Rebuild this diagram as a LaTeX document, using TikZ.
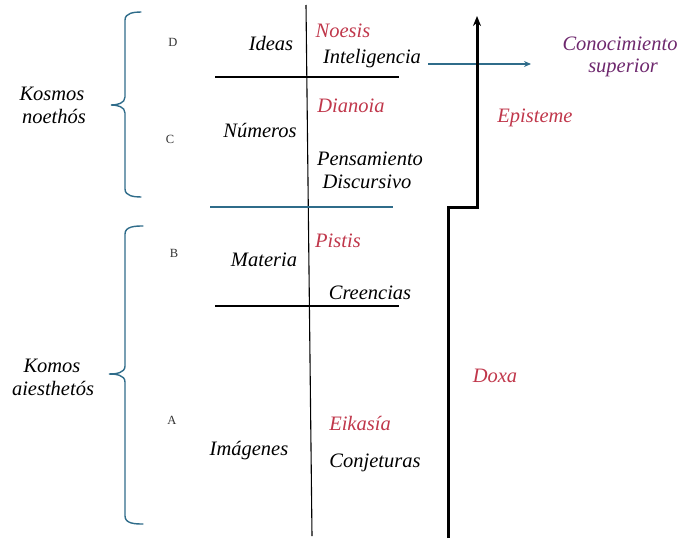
\documentclass[tikz,border=0pt]{standalone}
\usepackage{fontspec}
\setmainfont{Liberation Serif}
\usetikzlibrary{arrows.meta}
\definecolor{redtxt}{RGB}{192,55,75}
\definecolor{purptxt}{RGB}{110,40,110}
\definecolor{tealc}{RGB}{47,108,138}
\tikzset{
  lbl/.style={anchor=base, inner sep=0pt, font=\fontsize{20.5}{24}\selectfont\itshape},
  rlbl/.style={lbl, text=redtxt},
  plbl/.style={lbl, text=purptxt},
  letter/.style={anchor=base, inner sep=0pt, text=black!80, font=\fontsize{12.5}{14}\selectfont},
  blackrule/.style={draw=black, line width=1.1pt},
  tealrule/.style={draw=tealc, line width=1.6pt},
  bracec/.style={draw=tealc, line width=1.4pt, line cap=round},
  steppath/.style={draw=black, line width=3pt},
}
\begin{document}
\begin{tikzpicture}[x=1pt,y=-1pt]
\useasboundingbox (0,0) rectangle (684,538);
% central vertical
\coordinate (vtop) at (306,5);
\coordinate (vbot) at (312,536);
\draw[blackrule] (vtop) -- (vbot);
% horizontal rules
\coordinate (h1l) at (215,77); \coordinate (h1r) at (399,77);
\coordinate (h2l) at (210,207); \coordinate (h2r) at (393,207);
\coordinate (h3l) at (215,306); \coordinate (h3r) at (399,306);
\draw[blackrule] (h1l) -- (h1r);
\draw[tealrule] (h2l) -- (h2r);
\draw[blackrule] (h3l) -- (h3r);
% braces
\draw[bracec] (141,12) to[out=180,in=90] (125,20) -- (125,97) to[out=-90,in=0] (111,105) to[out=0,in=90] (125,113) -- (125,189) to[out=-90,in=180] (141,197);
\draw[bracec] (143,226) to[out=180,in=90] (125,234) -- (125,366) to[out=-90,in=0] (109,374) to[out=0,in=90] (125,382) -- (125,516) to[out=-90,in=180] (143,524);
% letters
\node[letter] (D) at (173,46) {D};
\node[letter] (C) at (170,143) {C};
\node[letter] (B) at (174,257) {B};
\node[letter] (A) at (172,424) {A};
% left labels
\node[lbl] (kos1) at (52,100) {Kosmos};
\node[lbl] (kos2) at (54,123) {noethós};
\node[lbl] (kom1) at (52,372) {Komos};
\node[lbl] (kom2) at (53,395) {aiesthetós};
% middle labels
\node[lbl] (ideas) at (271,50) {Ideas};
\node[lbl] (numeros) at (260,137) {Números};
\node[lbl] (materia) at (264,266) {Materia};
\node[lbl] (imagenes) at (249,455) {Imágenes};
% right of line
\node[rlbl] (noesis) at (343,37) {Noesis};
\node[lbl] (intel) at (372,63) {Inteligencia};
\node[rlbl] (dianoia) at (351,112) {Dianoia};
\node[lbl] (pens) at (370,165) {Pensamiento};
\node[lbl] (disc) at (367,188) {Discursivo};
\node[rlbl] (pistis) at (338,247) {Pistis};
\node[lbl] (creen) at (370,299) {Creencias};
\node[rlbl] (eikasia) at (360,430) {Eikasía};
\node[lbl] (conj) at (375,467) {Conjeturas};
% far right
\node[plbl] (conoc) at (620,50) {Conocimiento};
\node[plbl] (sup) at (623,72) {superior};
\node[rlbl] (epis) at (535,122) {Episteme};
\node[rlbl] (doxa) at (495,382) {Doxa};
% arrow to conocimiento
\coordinate (arrS) at (428,64);
\coordinate (arrE) at (531,64);
\draw[draw=tealc, line width=1.6pt, -{Stealth[length=7pt,width=6pt]}] (arrS) -- (arrE);
% stepped thick arrow
\coordinate (s0) at (448,538);
\coordinate (s1) at (448,207);
\coordinate (s2) at (477,207);
\coordinate (s3) at (477,16);
\draw[steppath, -{Stealth[length=10pt,width=8pt]}] (s0) -- (s1) -- (s2) -- (s3);
\end{tikzpicture}
\end{document}
